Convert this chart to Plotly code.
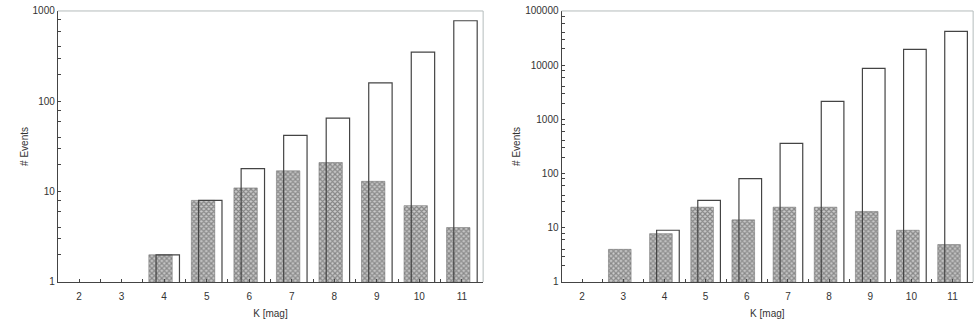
import plotly.graph_objects as go

# K magnitude bins
k_mag = [2, 3, 4, 5, 6, 7, 8, 9, 10, 11]

# left panel
left_hatched = [None, None, 2, 8, 11, 17, 21, 13, 7, 4]
left_outline = [None, None, 2, 8, 18, 42, 65, 160, 350, 780]

# right panel
right_hatched = [None, 4, 7.8, 24, 14, 24, 24, 20, 9, 4.9]
right_outline = [None, None, 9, 32, 81, 360, 2150, 8750, 19600, 42200]

FONT = "Liberation Sans, Arial, sans-serif"
DARK = "#444444"
FRAME = "#b4bcbc"

fig = go.Figure()


def add_panel(fig, hatched, outline, xa, ya):
    # hatched bars (drawn first), outlines on top with no fill
    fig.add_trace(go.Bar(
        x=k_mag, y=hatched, xaxis=xa, yaxis=ya,
        width=0.55, offset=-0.36,
        marker=dict(color="#a0a0a0",
                    line=dict(color="#666666", width=0.5),
                    pattern=dict(shape="x", size=3.5, solidity=0.6,
                                 fgcolor="#444444", bgcolor="#cccccc")),
        showlegend=False,
    ))
    fig.add_trace(go.Bar(
        x=k_mag, y=outline, xaxis=xa, yaxis=ya,
        width=0.55, offset=-0.19,
        marker=dict(color="rgba(0,0,0,0)", line=dict(color=DARK, width=1.2)),
        showlegend=False,
    ))


add_panel(fig, left_hatched, left_outline, "x", "y")
add_panel(fig, right_hatched, right_outline, "x2", "y2")

minor_vals = []
for d in [1, 10, 100, 1000, 10000]:
    for m in [2, 3, 4, 6, 8]:
        minor_vals.append(m * d)

xaxis_common = dict(
    range=[1.5, 11.5], tickvals=k_mag, ticktext=[str(k) for k in k_mag],
    ticks="inside", ticklen=3, tickcolor=DARK, showline=True, linecolor=DARK,
    linewidth=1, showgrid=False, zeroline=False, automargin=False,
    ticklabelstandoff=5,
    tickfont=dict(family=FONT, size=10, color="#333333"),
    minor=dict(tickvals=[k + 0.5 for k in k_mag], ticks="inside", ticklen=3,
               tickcolor=DARK),
    title=dict(text="K [mag]", font=dict(family=FONT, size=10, color="#333333"),
               standoff=9),
)

yaxis_common = dict(
    type="log", ticks="inside", ticklen=3, tickcolor=DARK, showline=True,
    linecolor=DARK, linewidth=1, showgrid=False, zeroline=False, automargin=False,
    tickfont=dict(family=FONT, size=10, color="#333333"),
    title=dict(text="# Events", font=dict(family=FONT, size=10, color="#333333"),
               standoff=2),
)

fig.update_layout(
    width=980, height=323,
    margin=dict(l=0, r=0, t=0, b=0),
    paper_bgcolor="white", plot_bgcolor="white",
    barmode="overlay",
    xaxis=dict(domain=[0.059, 0.493], anchor="y", **xaxis_common),
    yaxis=dict(domain=[0.127, 0.966], anchor="x", range=[0, 3],
               tickvals=[1, 10, 100, 1000], ticktext=["1", "10", "100", "1000"],
               minor=dict(tickvals=minor_vals, ticks="inside", ticklen=3,
                          tickcolor=DARK),
               **yaxis_common),
    xaxis2=dict(domain=[0.573, 0.993], anchor="y2", **xaxis_common),
    yaxis2=dict(domain=[0.127, 0.966], anchor="x2", range=[0, 5],
                tickvals=[1, 10, 100, 1000, 10000, 100000],
                ticktext=["1", "10", "100", "1000", "10000", "100000"],
                minor=dict(tickvals=minor_vals, ticks="inside", ticklen=3,
                           tickcolor=DARK),
                **yaxis_common),
)

# light frame on top / right of each plot area
for xr, yr in [("x domain", "y domain"), ("x2 domain", "y2 domain")]:
    fig.add_shape(type="line", xref=xr, yref=yr, x0=0, x1=1, y0=1, y1=1,
                  line=dict(color=FRAME, width=1))
    fig.add_shape(type="line", xref=xr, yref=yr, x0=1, x1=1, y0=0, y1=1,
                  line=dict(color=FRAME, width=1))

# drop the default body margin so the figure fills the window
fig.write_html("out.html", config={"displayModeBar": False},
               post_script="document.body.style.margin='0';")
